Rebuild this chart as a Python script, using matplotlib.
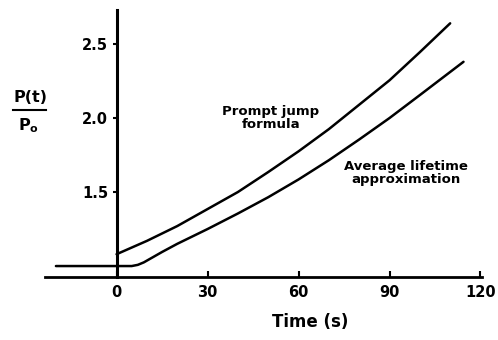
import matplotlib
matplotlib.use("Agg")
import matplotlib.pyplot as plt
from matplotlib.lines import Line2D

# Data
t_prompt = [0, 10, 20, 30, 40, 50, 60, 70, 80, 90, 100, 110]
p_prompt = [1.08, 1.17, 1.27, 1.385, 1.50, 1.635, 1.775, 1.925, 2.09, 2.255, 2.445, 2.64]

t_avg = [-20, 0, 5, 7, 9, 12, 15, 20, 30, 40, 50, 60, 70, 80, 90, 100, 114.4]
p_avg = [1.0, 1.0, 1.0, 1.008, 1.025, 1.06, 1.095, 1.15, 1.25, 1.355, 1.465, 1.585, 1.715, 1.855, 2.00, 2.155, 2.38]

x_ticks = [0, 30, 60, 90, 120]
y_ticks = [1.5, 2.0, 2.5]
y_tick_labels = ["1.5", "2.0", "2.5"]

plt.rcParams['font.family'] = ['DejaVu Sans']

fig = plt.figure(figsize=(4.98, 3.40), dpi=100)
ax = fig.add_axes([45/498, 1-277/340, (482-45)/498, (277-10)/340])

ax.plot(t_prompt, p_prompt, color='black', lw=1.8, solid_capstyle='round', solid_joinstyle='round')
ax.plot(t_avg, p_avg, color='black', lw=1.8, solid_capstyle='round', solid_joinstyle='round')

ax.set_xlim(-23.6, 120.5)
ax.set_ylim(0.926, 2.73)

for s in ['top', 'right']:
    ax.spines[s].set_visible(False)
ax.spines['left'].set_position(('data', 0))
ax.spines['left'].set_linewidth(2.2)
ax.spines['bottom'].set_linewidth(2.0)

ax.set_xticks(x_ticks)
ax.set_xticklabels([str(v) for v in x_ticks], fontsize=10.5, fontweight='bold')
ax.set_yticks(y_ticks)
ax.set_yticklabels(y_tick_labels, fontsize=10.5, fontweight='bold')
ax.tick_params(axis='x', direction='in', length=4, width=1.5, pad=6)
ax.tick_params(axis='y', direction='out', length=3, width=1.5, pad=3)

ax.set_xlabel("Time (s)", fontsize=12, fontweight='bold')
ax.xaxis.set_label_coords((310-45)/437, -0.135)

ax.text(50.8, 2.0, "Prompt jump\nformula", ha='center', va='center',
        fontsize=9.5, fontweight='bold', linespacing=1.0)
ax.text(95.4, 1.63, "Average lifetime\napproximation", ha='center', va='center',
        fontsize=9.5, fontweight='bold', linespacing=1.0)

# y label as a fraction P(t) / P_o
fig.text(30/498, 1-97/340, "P(t)", ha='center', va='center', fontsize=11.5, fontweight='bold')
fig.add_artist(Line2D([13/498, 46/498], [1-110/340, 1-110/340], color='black', lw=1.5))
fig.text(29/498, 1-126/340, r"P$_\mathbf{o}$", ha='center', va='center', fontsize=11.5, fontweight='bold')

fig.savefig("out.png", dpi=100)
